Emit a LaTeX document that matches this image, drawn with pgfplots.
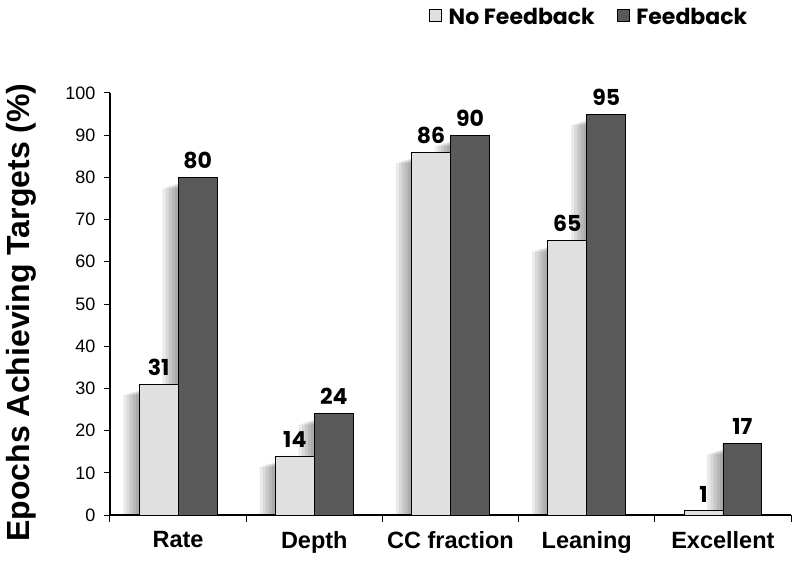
\documentclass[border=0pt]{standalone}
\usepackage{fontspec}
\setmainfont{Liberation Sans}
\newfontfamily\gothic{Poppins}
\usepackage{pgfplots}
\usepackage{pgfplotstable}
\pgfplotsset{compat=1.18}
\definecolor{lightbar}{RGB}{224,224,224}
\definecolor{darkbar}{RGB}{89,89,89}
\pgfplotstableread{
x nf fb
0 31 80
1 14 24
2 86 90
3 65 95
4 1 17
}\datatable
\pgfplotsset{
  shadowbar/.style={forget plot, draw=none, fill=black, fill opacity=0.08},
  vallabel/.style={nodes near coords, every node near coord/.append style={font=\gothic\bfseries\fontsize{22}{24}\selectfont, black, yshift=5pt}},
}
\begin{document}
\begin{tikzpicture}
\useasboundingbox (-110pt,-48pt) rectangle (690pt,515pt);
\begin{axis}[
  scale only axis, width=681pt, height=422pt,
  xmin=-0.5, xmax=4.5, ymin=0, ymax=100,
  ybar, bar width=0.286,
  axis lines*=left,
  axis line style={line width=1.2pt, black},
  ytick={0,10,...,100},
  ytick align=outside,
  major tick length=6pt,
  ytick style={line width=1pt, black},
  /pgf/number format/assume math mode=true,
  yticklabel style={font=\fontsize{18}{20}\selectfont, xshift=-5pt},
  xtick={0,1,2,3,4},
  xticklabels={Rate,Depth,CC fraction,Leaning,Excellent},
  xtick style={draw=none},
  xticklabel style={font=\bfseries\fontsize{23.5}{26}\selectfont, yshift=-7pt},
  extra x ticks={-0.5,0.5,1.5,2.5,3.5,4.5},
  extra x tick labels={},
  extra x tick style={xtick style={draw=black, line width=1pt}, major tick length=7pt, tick align=outside},
  ylabel={Epochs Achieving Targets (\%)},
  every axis y label/.style={at={(axis description cs:-0.13,0.48)}, rotate=90, anchor=center, font=\bfseries\fontsize{32}{36}\selectfont},
  legend style={at={(axis description cs:0.939,1.205)}, anchor=north east, draw=none, fill=none, inner sep=0pt,
    font=\gothic\bfseries\fontsize{22}{26}\selectfont, /tikz/every even column/.append style={column sep=20pt}},
  legend columns=2,
  legend cell align=left,
  legend image code/.code={\draw[#1, line width=0.8pt] (0pt,-4pt) rectangle (12pt,8pt); \path (17pt,0pt);},
]
% soft shadows to the left of the bars
\addplot[shadowbar, bar width=0.115, bar shift=-0.3435] table[x=x, y expr=\thisrow{nf}-2.6] {\datatable};
\addplot[shadowbar, bar width=0.092, bar shift=-0.332]  table[x=x, y expr=\thisrow{nf}-2.3] {\datatable};
\addplot[shadowbar, bar width=0.069, bar shift=-0.3205] table[x=x, y expr=\thisrow{nf}-2.0] {\datatable};
\addplot[shadowbar, bar width=0.046, bar shift=-0.309]  table[x=x, y expr=\thisrow{nf}-1.8] {\datatable};
\addplot[shadowbar, bar width=0.023, bar shift=-0.2975] table[x=x, y expr=\thisrow{nf}-1.6] {\datatable};
\addplot[shadowbar, bar width=0.115, bar shift=-0.0575] table[x=x, y expr=\thisrow{fb}-2.6] {\datatable};
\addplot[shadowbar, bar width=0.092, bar shift=-0.046]  table[x=x, y expr=\thisrow{fb}-2.3] {\datatable};
\addplot[shadowbar, bar width=0.069, bar shift=-0.0345] table[x=x, y expr=\thisrow{fb}-2.0] {\datatable};
\addplot[shadowbar, bar width=0.046, bar shift=-0.023]  table[x=x, y expr=\thisrow{fb}-1.8] {\datatable};
\addplot[shadowbar, bar width=0.023, bar shift=-0.0115] table[x=x, y expr=\thisrow{fb}-1.6] {\datatable};
% bars
\addplot[forget plot, fill=lightbar, draw=black, line width=0.8pt, bar shift=-0.143, vallabel]
  table[x=x, y=nf] {\datatable};
\addplot[forget plot, fill=darkbar, draw=black, line width=0.8pt, bar shift=0.143, vallabel]
  table[x=x, y=fb] {\datatable};
\addlegendimage{fill=lightbar, draw=black}
\addlegendentry{No Feedback}
\addlegendimage{fill=darkbar, draw=black}
\addlegendentry{Feedback}
\end{axis}
\end{tikzpicture}
\end{document}
